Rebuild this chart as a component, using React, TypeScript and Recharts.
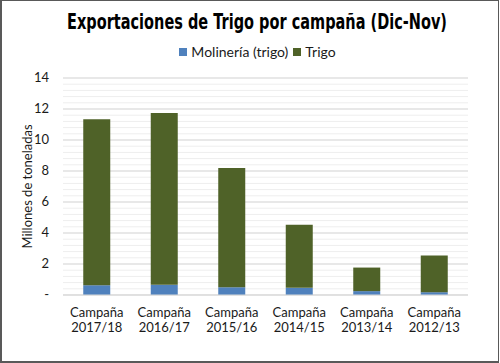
import React from 'react'
import { BarChart, Bar, XAxis, YAxis, CartesianGrid } from 'recharts'

const campaigns = ['Campaña 2017/18', 'Campaña 2016/17', 'Campaña 2015/16', 'Campaña 2014/15', 'Campaña 2013/14', 'Campaña 2012/13']
const molineria = [0.63, 0.66, 0.5, 0.46, 0.25, 0.18]
const trigo = [10.71, 11.09, 7.7, 4.07, 1.52, 2.37]
const yTicks = [0, 2, 4, 6, 8, 10, 12, 14]
const Y_MAX = 14
// light minor grid every 0.4
const minorTicks = Array.from({ length: 36 }, (_, i) => +(i * 0.4).toFixed(1))

const series = [
  { key: 'molineria', name: 'Molinería (trigo)', color: '#4f81bd' },
  { key: 'trigo', name: 'Trigo', color: '#4f6228' },
]

const data = campaigns.map((name, i) => ({ name, molineria: molineria[i], trigo: trigo[i] }))

const FONT = 'Lato, "Noto Sans", sans-serif'

function CampaignTick({ x, y, payload }: any) {
  const [a, b] = String(payload.value).split(' ')
  return (
    <text x={x} y={y} textAnchor="middle" fill="#1a1a1a" fontSize={13} fontFamily={FONT}>
      <tspan x={x} dy={14}>{a}</tspan>
      <tspan x={x} dy={15}>{b}</tspan>
    </text>
  )
}

function YTick({ x, y, payload }: any) {
  return (
    <text x={x} y={y} dy={4} textAnchor="end" fill="#1a1a1a" fontSize={13} fontFamily={FONT}>
      {payload.value === 0 ? '-' : payload.value}
    </text>
  )
}

// minor grid positions from the plot offset
function minorLines({ yAxis, offset }: any) {
  if (yAxis && typeof yAxis.scale === 'function') return minorTicks.map((v) => yAxis.scale(v))
  return minorTicks.map((v) => offset.top + offset.height * (1 - v / Y_MAX))
}

export default function App() {
  return (
    <div
      style={{
        position: 'absolute',
        top: 0,
        left: 0,
        width: 499,
        height: 363,
        boxSizing: 'border-box',
        borderLeft: '2px solid #595959',
        borderTop: '1px solid #595959',
        borderRight: '1px solid #595959',
        borderBottom: '2px solid #595959',
        background: '#fff',
      }}
    >
      <div style={{ position: 'absolute', top: -1, left: -2 }}>
        <BarChart width={500} height={363} data={data} margin={{ top: 78, right: 32, bottom: 38, left: 0 }} barCategoryGap="30%">
          <CartesianGrid vertical={false} stroke="#eeeeee" horizontalCoordinatesGenerator={minorLines} />
          <CartesianGrid vertical={false} stroke="#d9d9d9" />
          <XAxis dataKey="name" height={30} axisLine={{ stroke: '#d9d9d9' }} tickLine={false} tick={<CampaignTick />} interval={0} />
          <YAxis
            domain={[0, Y_MAX]}
            ticks={yTicks}
            width={63}
            axisLine={false}
            tickLine={false}
            tickMargin={8}
            tick={<YTick />}
            label={{ value: 'Millones de toneladas', angle: -90, position: 'insideLeft', offset: 27, style: { textAnchor: 'middle', fontFamily: FONT, fontSize: 13, fill: '#1a1a1a' } }}
          />
          {series.map((s) => (
            <Bar key={s.key} dataKey={s.key} name={s.name} stackId="a" fill={s.color} isAnimationActive={false} />
          ))}
        </BarChart>
      </div>
      <svg style={{ position: 'absolute', top: -1, left: -2 }} width={500} height={50}>
        <text
          x={257}
          y={29}
          textAnchor="middle"
          textLength={380}
          lengthAdjust="spacingAndGlyphs"
          fontFamily='"DejaVu Sans", sans-serif'
          fontWeight="bold"
          fontSize={22}
          fill="#000"
        >
          Exportaciones de Trigo por campaña (Dic-Nov)
        </text>
      </svg>
      <div
        style={{
          position: 'absolute',
          top: 42,
          left: 0,
          width: 516,
          display: 'flex',
          justifyContent: 'center',
          fontFamily: FONT,
          fontSize: 14,
          color: '#1a1a1a',
        }}
      >
        {series.map((s) => (
          <span key={s.key} style={{ display: 'inline-flex', alignItems: 'center', marginRight: 5 }}>
            <span style={{ width: 8, height: 8, background: s.color, display: 'inline-block', marginRight: 4 }} />
            {s.name}
          </span>
        ))}
      </div>
    </div>
  )
}
